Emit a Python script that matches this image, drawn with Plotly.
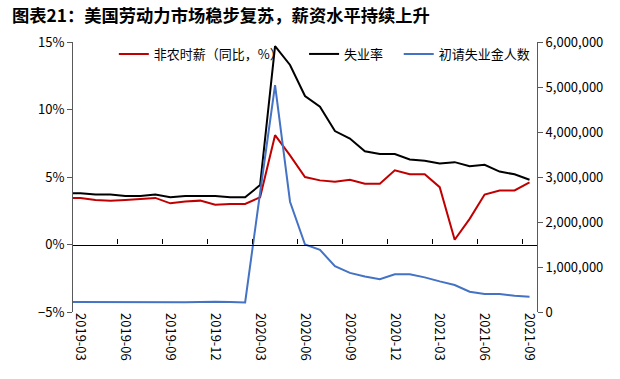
import plotly.graph_objects as go

months = ["2019-02", "2019-03", "2019-04", "2019-05", "2019-06", "2019-07", "2019-08",
          "2019-09", "2019-10", "2019-11", "2019-12", "2020-01", "2020-02", "2020-03",
          "2020-04", "2020-05", "2020-06", "2020-07", "2020-08", "2020-09", "2020-10",
          "2020-11", "2020-12", "2021-01", "2021-02", "2021-03", "2021-04", "2021-05",
          "2021-06", "2021-07", "2021-08", "2021-09"]

wage_yoy = [3.45, 3.45, 3.3, 3.25, 3.3, 3.38, 3.45, 3.05, 3.18, 3.25, 2.95, 3.0, 3.0, 3.5,
            8.1, 6.6, 5.0, 4.75, 4.65, 4.8, 4.5, 4.5, 5.5, 5.2, 5.2, 4.25, 0.35, 1.9,
            3.7, 4.0, 4.0, 4.6]

unemployment = [3.8, 3.8, 3.7, 3.7, 3.6, 3.6, 3.7, 3.5, 3.6, 3.6, 3.6, 3.5, 3.5, 4.4,
                14.7, 13.3, 11.0, 10.2, 8.4, 7.85, 6.9, 6.7, 6.7, 6.3, 6.2, 6.0, 6.1, 5.8,
                5.9, 5.4, 5.2, 4.8]

initial_claims = [220000, 218000, 215000, 218000, 215000, 215000, 213000, 215000, 215000,
                  220000, 230000, 220000, 213000, 2650000, 5040000, 2450000, 1500000,
                  1380000, 1020000, 870000, 790000, 730000, 840000, 840000, 770000,
                  680000, 600000, 450000, 400000, 400000, 360000, 340000]

tick_labels = ["2019-03", "2019-06", "2019-09", "2019-12", "2020-03", "2020-06",
               "2020-09", "2020-12", "2021-03", "2021-06", "2021-09"]

names = ["非农时薪（同比，%）", "失业率", "初请失业金人数"]
colors = ["#C00000", "#000000", "#4472C4"]

x = list(range(len(months)))
label_pos = [months.index(m) for m in tick_labels]
boundary_pos = [p - 0.5 for p in label_pos[1:]]
x_range = [label_pos[0] - 0.5, label_pos[-1] + 0.5]

FONT = "Noto Sans CJK SC, Noto Sans, sans-serif"

W, H = 620, 379

fig = go.Figure()
fig.add_trace(go.Scatter(x=x, y=wage_yoy, mode="lines", name=names[0],
                         line=dict(color=colors[0], width=2), legend="legend",
                         xaxis="x", yaxis="y"))
fig.add_trace(go.Scatter(x=x, y=unemployment, mode="lines", name=names[1],
                         line=dict(color=colors[1], width=2), legend="legend2",
                         xaxis="x", yaxis="y"))
fig.add_trace(go.Scatter(x=x, y=initial_claims, mode="lines", name=names[2],
                         line=dict(color=colors[2], width=2), legend="legend3",
                         xaxis="x", yaxis="y2"))
# invisible helper trace for the tick axis on the zero line
fig.add_trace(go.Scatter(x=[x_range[0]], y=[0], mode="markers", marker=dict(opacity=0),
                         showlegend=False, hoverinfo="skip", xaxis="x2", yaxis="y"))

axis_font = dict(family=FONT, size=13, color="#000000")
legend_common = dict(orientation="h", xanchor="left", yanchor="middle", y=0.9556,
                     font=dict(family=FONT, size=13, color="#000000"),
                     bgcolor="rgba(0,0,0,0)", borderwidth=0)

fig.update_layout(
    width=W, height=H,
    margin=dict(l=73, r=83, t=42, b=67),
    paper_bgcolor="white", plot_bgcolor="white",
    title=dict(text="<b>图表21：美国劳动力市场稳步复苏，薪资水平持续上升</b>",
               x=12 / W, xanchor="left", xref="container",
               y=1 - 16 / H, yanchor="middle", yref="container",
               font=dict(family=FONT, size=17.3, color="#000000")),
    xaxis=dict(range=x_range, tickmode="array", tickvals=label_pos, ticktext=tick_labels,
               tickangle=90, ticks="", showline=False, showgrid=False, zeroline=False,
               tickfont=axis_font),
    xaxis2=dict(range=x_range, overlaying="x", anchor="free", position=0.25,
                tickmode="array", tickvals=boundary_pos, ticks="inside", ticklen=5,
                tickcolor="#000000", tickwidth=1, showticklabels=False,
                showline=True, linecolor="#000000", linewidth=1.3,
                showgrid=False, zeroline=False),
    yaxis=dict(range=[-5, 15], dtick=5, ticksuffix="%", ticks="outside", ticklen=5,
               tickcolor="#595959", showline=True, linecolor="#595959", linewidth=1,
               showgrid=False, zeroline=False, tickfont=axis_font),
    yaxis2=dict(range=[0, 6000000], dtick=1000000, tickformat=",", overlaying="y",
                side="right", ticks="outside", ticklen=5, tickcolor="#595959",
                showline=True, linecolor="#595959", linewidth=1,
                showgrid=False, zeroline=False, tickfont=axis_font),
    legend=dict(x=0.088, **legend_common),
    legend2=dict(x=0.498, **legend_common),
    legend3=dict(x=0.702, **legend_common),
)

fig.write_html("out.html",
               config={"displayModeBar": False},
               post_script="document.body.style.margin='0';document.body.style.overflow='hidden';")
